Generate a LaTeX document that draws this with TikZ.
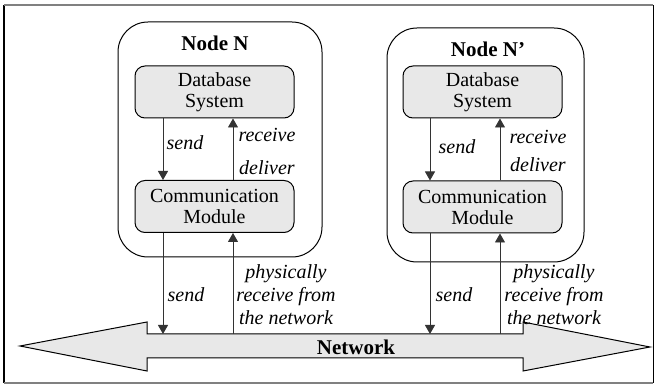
\documentclass[tikz,border=0pt]{standalone}
\usepackage{fontspec}
\setmainfont{Liberation Serif}
\usetikzlibrary{arrows.meta}
\definecolor{boxgray}{RGB}{232,232,232}
\definecolor{framegray}{RGB}{128,128,128}
\begin{document}
\begin{tikzpicture}[x=0.5pt,y=-0.5pt,
  outer/.style={draw,rounded corners=15pt,inner sep=0pt,line width=0.5pt},
  inner/.style={draw,fill=boxgray,rounded corners=5pt,minimum width=79.5pt,minimum height=26pt,inner sep=0pt,align=center,font=\fontsize{10}{10.5}\selectfont,line width=0.5pt},
  title/.style={font=\fontsize{10.5}{12}\selectfont\bfseries,inner sep=0pt},
  lab/.style={font=\fontsize{10}{11.5}\selectfont\itshape,align=center,inner sep=0pt},
  arr/.style={-{Triangle[length=4.5pt,width=5pt]},line width=0.45pt,draw=black!80,fill=black}]
\useasboundingbox (0,0) rectangle (655,385);
% frame
\draw[line width=0.5pt] (4,5) -- (4,383);
\draw[line width=0.5pt] (653,5) -- (653,383);
\draw[framegray,line width=1.2pt] (4,5) -- (653,5);
\draw[framegray,line width=1.2pt] (4,383) -- (653,383);
% outer node boxes
\node[outer,minimum width=102pt,minimum height=117.5pt] (NL) at (220,139.5) {};
\node[outer,minimum width=98.5pt,minimum height=117pt] (NR) at (485.5,145) {};
\node[title] (tL) at (215,43) {Node N};
\node[title] (tR) at (488,49) {Node N'};
% inner boxes
\node[inner] (dbL) at (214.5,92) {Database\\System};
\node[inner] (cmL) at (214.5,206.5) {Communication\\Module};
\node[inner] (dbR) at (482.5,92) {Database\\System};
\node[inner] (cmR) at (482.5,207) {Communication\\Module};
% network arrow
\draw[fill=boxgray,line width=0.5pt] (20,346) -- (147,322) -- (147,334) -- (523,334) -- (523,322) -- (650,347) -- (523,371) -- (523,358) -- (147,358) -- (147,371) -- cycle;
\coordinate (net) at (335,334);
\node[font=\fontsize{10.5}{12}\selectfont\bfseries] (nlab) at (356,347) {Network};
% inner arrows left
\draw[arr] ([xshift=-25.75pt]dbL.south) -- ([xshift=-25.75pt]cmL.north);
\draw[arr] ([xshift=9.25pt]cmL.north) -- ([xshift=9.25pt]dbL.south);
\draw[arr] ([xshift=-25.75pt]cmL.south) -- ([xshift=-25.75pt]cmL.south |- net);
\draw[arr] ([xshift=9.25pt]cmL.south |- net) -- ([xshift=9.25pt]cmL.south);
% inner arrows right
\draw[arr] ([xshift=-26.25pt]dbR.south) -- ([xshift=-26.25pt]cmR.north);
\draw[arr] ([xshift=8.75pt]cmR.north) -- ([xshift=8.75pt]dbR.south);
\draw[arr] ([xshift=-26.25pt]cmR.south) -- ([xshift=-26.25pt]cmR.south |- net);
\draw[arr] ([xshift=8.75pt]cmR.south |- net) -- ([xshift=8.75pt]cmR.south);
% labels
\node[lab] (sL) at (185,143) {send};
\node[lab] (rL) at (267,135) {receive};
\node[lab] (dL) at (267,168) {deliver};
\node[lab] (sR) at (457,147) {send};
\node[lab] (rR) at (538,137) {receive};
\node[lab] (dR) at (538,165) {deliver};
\node[lab] (s2L) at (186,295) {send};
\node[lab] (pL) at (286,295) {physically\\receive from\\the network};
\node[lab] (s2R) at (454,295) {send};
\node[lab] (pR) at (554,295) {physically\\receive from\\the network};
\end{tikzpicture}
\end{document}
